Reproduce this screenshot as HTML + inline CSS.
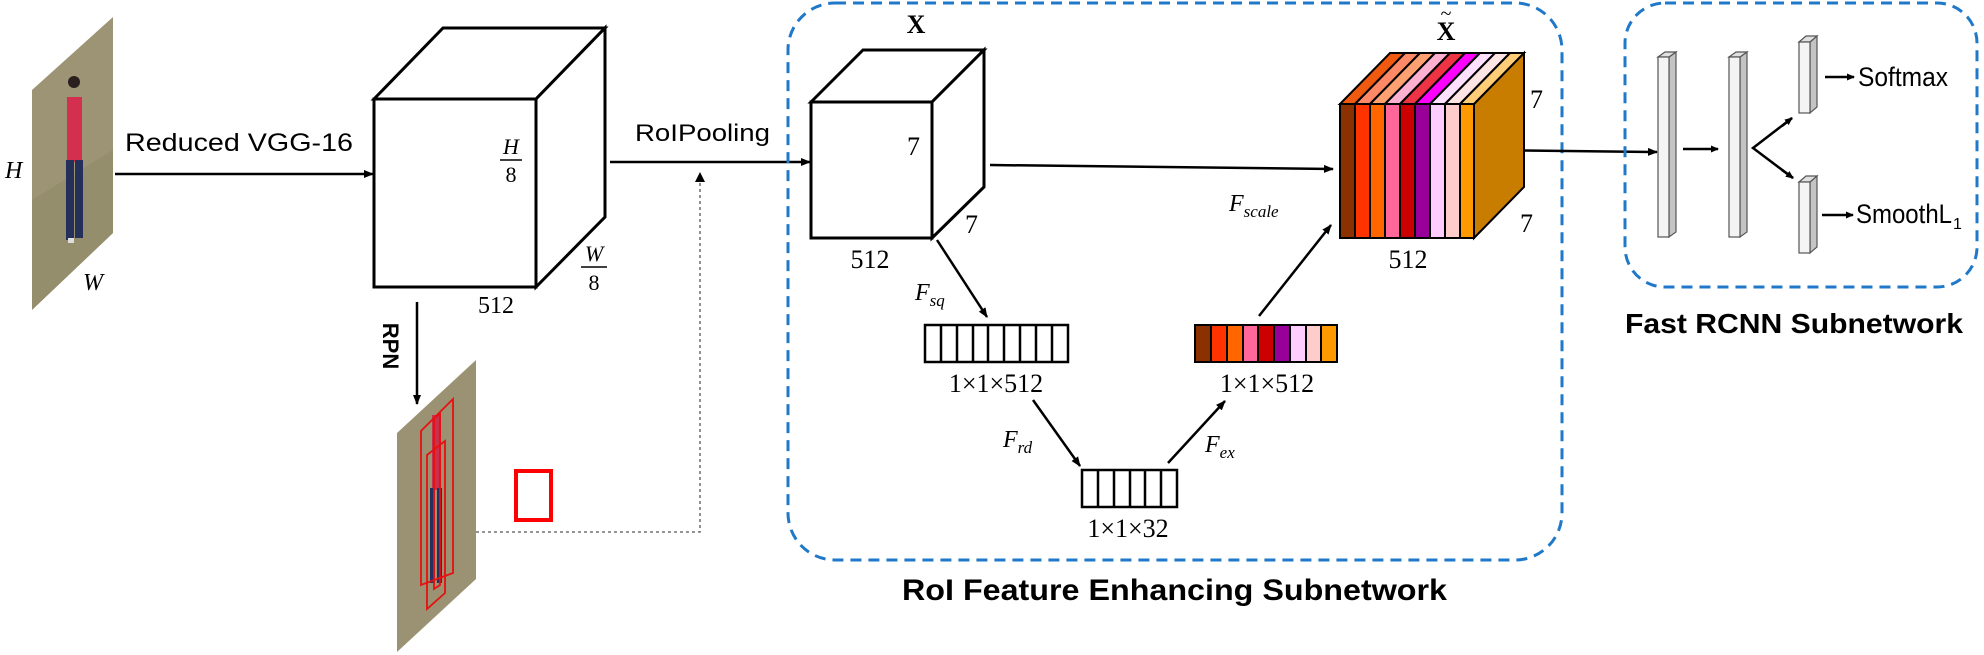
<!DOCTYPE html>
<html><head><meta charset="utf-8"><style>
html,body{margin:0;padding:0;background:#fff;}
svg{display:block;}
.s{font-family:"Liberation Sans",sans-serif;}
.m{font-family:"Liberation Serif",serif;}
</style></head><body>
<svg width="1984" height="655" viewBox="0 0 1984 655" xmlns="http://www.w3.org/2000/svg">
<defs>
<marker id="ah" markerWidth="10" markerHeight="8" refX="9" refY="4" orient="auto" markerUnits="userSpaceOnUse">
<path d="M0,0 L10,4 L0,8 Z" fill="#000"/></marker>
<marker id="ahs" markerWidth="8" markerHeight="7" refX="7" refY="3.5" orient="auto" markerUnits="userSpaceOnUse">
<path d="M0,0 L8,3.5 L0,7 Z" fill="#000"/></marker>
</defs>

<!-- input image -->
<polygon points="32,90 113,17 113,233 32,310" fill="#9c9474"/>
<polygon points="32,200 113,150 113,233 32,310" fill="#8f8a68" opacity="0.6"/>
<circle cx="74" cy="82" r="6" fill="#2a2020"/>
<rect x="67" y="97" width="15" height="65" fill="#d42f4f"/>
<rect x="66" y="160" width="8" height="80" fill="#24305a"/>
<rect x="75" y="160" width="8" height="78" fill="#24305a"/>
<rect x="68" y="238" width="6" height="5" fill="#ddd"/>
<text x="5" y="178" class="m" font-style="italic" font-size="24">H</text>
<text x="83" y="290" class="m" font-style="italic" font-size="24">W</text>

<!-- VGG arrow -->
<text x="125" y="151" class="s" font-size="25" textLength="228" lengthAdjust="spacingAndGlyphs">Reduced VGG-16</text>
<line x1="115" y1="174" x2="373" y2="174" stroke="#000" stroke-width="2.5" marker-end="url(#ah)"/>

<!-- cube 1 -->
<g stroke="#000" stroke-width="3" fill="#fff" stroke-linejoin="miter">
<polygon points="374,99 443,28 605,28 536,99"/>
<polygon points="536,99 605,28 605,217 536,287"/>
<rect x="374" y="99" width="162" height="188"/>
</g>
<text x="511" y="154" class="m" font-style="italic" font-size="22" text-anchor="middle">H</text>
<line x1="500" y1="160" x2="522" y2="160" stroke="#000" stroke-width="1.5"/>
<text x="511" y="182" class="m" font-size="22" text-anchor="middle">8</text>
<text x="594" y="261" class="m" font-style="italic" font-size="22" text-anchor="middle">W</text>
<line x1="581" y1="267" x2="607" y2="267" stroke="#000" stroke-width="1.5"/>
<text x="594" y="290" class="m" font-size="22" text-anchor="middle">8</text>
<text x="496" y="313" class="m" font-size="24" text-anchor="middle">512</text>

<!-- RoIPooling -->
<text x="635" y="141" class="s" font-size="24" textLength="135" lengthAdjust="spacingAndGlyphs">RoIPooling</text>
<line x1="610" y1="162" x2="810" y2="162" stroke="#000" stroke-width="2.5" marker-end="url(#ah)"/>

<!-- RPN -->
<line x1="417" y1="302" x2="417" y2="404" stroke="#000" stroke-width="2.5" marker-end="url(#ah)"/>
<text class="s" font-size="22" font-weight="bold" transform="translate(383,346) rotate(90)" text-anchor="middle">RPN</text>

<!-- image 2 -->
<polygon points="397,433 476,360 476,579 397,652" fill="#9a9272"/>
<rect x="432" y="415" width="9" height="75" fill="#c8304c"/>
<rect x="430" y="488" width="5" height="95" fill="#263060"/>
<rect x="437" y="488" width="5" height="95" fill="#263060"/>
<g fill="none" stroke="#e81010" stroke-width="1.8">
<polygon points="421,431 453,399 453,573 421,585"/>
<polygon points="427,455 445,441 445,593 427,609"/>
<polygon points="434,418 440,414 440,585 434,589"/>
</g>
<rect x="516" y="471" width="35" height="49" fill="none" stroke="#f00" stroke-width="4"/>
<polyline points="476,532 700,532 700,180" fill="none" stroke="#555" stroke-width="1.3" stroke-dasharray="3,3"/>
<path d="M695,182 L700,172 L705,182 Z" fill="#000"/>

<!-- RoI box -->
<rect x="788" y="3" width="774" height="557" rx="47" ry="47" fill="none" stroke="#1f78c8" stroke-width="3" stroke-dasharray="11,7"/>
<text x="902" y="600" class="s" font-size="30" font-weight="bold" textLength="545" lengthAdjust="spacingAndGlyphs">RoI Feature Enhancing Subnetwork</text>

<!-- X cube -->
<g stroke="#000" stroke-width="3" fill="#fff">
<polygon points="811,102 863,50 984,50 932,102"/>
<polygon points="932,102 984,50 984,187 932,238"/>
<rect x="811" y="102" width="121" height="136"/>
</g>
<text x="916" y="33" class="m" font-size="26" font-weight="bold" text-anchor="middle">X</text>
<text x="907" y="155" class="m" font-size="26">7</text>
<text x="965" y="233" class="m" font-size="26">7</text>
<text x="870" y="268" class="m" font-size="26" text-anchor="middle">512</text>

<!-- arrows -->
<g stroke="#000" stroke-width="2.5">
<line x1="990" y1="165" x2="1333" y2="169" marker-end="url(#ah)"/>
<line x1="937" y1="240" x2="987" y2="317" marker-end="url(#ah)"/>
<line x1="1033" y1="400" x2="1080" y2="466" marker-end="url(#ah)"/>
<line x1="1168" y1="463" x2="1225" y2="401" marker-end="url(#ah)"/>
<line x1="1259" y1="316" x2="1331" y2="225" marker-end="url(#ah)"/>
<line x1="1478" y1="150" x2="1657" y2="152" marker-end="url(#ah)"/>
</g>
<text x="915" y="300" class="m" font-style="italic" font-size="24">F<tspan font-size="17" dy="6">sq</tspan></text>
<text x="1229" y="211" class="m" font-style="italic" font-size="24">F<tspan font-size="17" dy="6">scale</tspan></text>
<text x="1003" y="447" class="m" font-style="italic" font-size="24">F<tspan font-size="17" dy="6">rd</tspan></text>
<text x="1205" y="452" class="m" font-style="italic" font-size="24">F<tspan font-size="17" dy="6">ex</tspan></text>

<!-- vector 1 -->
<g stroke="#000" stroke-width="2.5" fill="#fff">
<rect x="925" y="325" width="143" height="37"/>
<path d="M941,325V362M957,325V362M973,325V362M988,325V362M1004,325V362M1020,325V362M1036,325V362M1052,325V362" fill="none"/>
</g>
<text x="996" y="392" class="m" font-size="26" text-anchor="middle">1×1×512</text>

<!-- small vector -->
<g stroke="#000" stroke-width="2.5" fill="#fff">
<rect x="1082" y="470" width="95" height="37"/>
<path d="M1098,470V507M1114,470V507M1130,470V507M1145,470V507M1161,470V507" fill="none"/>
</g>
<text x="1128" y="537" class="m" font-size="26" text-anchor="middle">1×1×32</text>

<!-- colored vector -->
<g stroke="#000" stroke-width="2">
<rect x="1195" y="325" width="16" height="37" fill="#8b3000"/>
<rect x="1211" y="325" width="16" height="37" fill="#ff3300"/>
<rect x="1227" y="325" width="16" height="37" fill="#ff6600"/>
<rect x="1243" y="325" width="15" height="37" fill="#ff6699"/>
<rect x="1258" y="325" width="16" height="37" fill="#cc0000"/>
<rect x="1274" y="325" width="16" height="37" fill="#990099"/>
<rect x="1290" y="325" width="16" height="37" fill="#ffccff"/>
<rect x="1306" y="325" width="15" height="37" fill="#ffcccc"/>
<rect x="1321" y="325" width="16" height="37" fill="#ff9900"/>
</g>
<text x="1267" y="392" class="m" font-size="26" text-anchor="middle">1×1×512</text>

<!-- colored cube -->
<g stroke="#000" stroke-width="2">
<polygon points="1474,104 1524,53 1524,187 1474,238" fill="#c97d00"/>
<polygon points="1340,104 1390,53 1405,53 1355,104" fill="#f05a10"/>
<polygon points="1355,104 1405,53 1420,53 1370,104" fill="#ff8866"/>
<polygon points="1370,104 1420,53 1435,53 1385,104" fill="#ffa070"/>
<polygon points="1385,104 1435,53 1450,53 1400,104" fill="#ffb0d0"/>
<polygon points="1400,104 1450,53 1465,53 1415,104" fill="#ee3344"/>
<polygon points="1415,104 1465,53 1480,53 1430,104" fill="#ff00ff"/>
<polygon points="1430,104 1480,53 1495,53 1445,104" fill="#ffe0ff"/>
<polygon points="1445,104 1495,53 1510,53 1460,104" fill="#ffe4e4"/>
<polygon points="1460,104 1510,53 1524,53 1474,104" fill="#ffcc77"/>
<rect x="1340" y="104" width="15" height="134" fill="#8b3000"/>
<rect x="1355" y="104" width="15" height="134" fill="#ff3300"/>
<rect x="1370" y="104" width="15" height="134" fill="#ff6600"/>
<rect x="1385" y="104" width="15" height="134" fill="#ff6699"/>
<rect x="1400" y="104" width="15" height="134" fill="#cc0000"/>
<rect x="1415" y="104" width="15" height="134" fill="#990099"/>
<rect x="1430" y="104" width="15" height="134" fill="#ffccff"/>
<rect x="1445" y="104" width="15" height="134" fill="#ffcccc"/>
<rect x="1460" y="104" width="14" height="134" fill="#ff9900"/>
</g>
<text x="1446" y="40" class="m" font-size="26" font-weight="bold" text-anchor="middle">X</text>
<text x="1446" y="20" class="m" font-size="20" text-anchor="middle">~</text>
<text x="1530" y="108" class="m" font-size="26">7</text>
<text x="1520" y="232" class="m" font-size="26">7</text>
<text x="1408" y="268" class="m" font-size="26" text-anchor="middle">512</text>

<!-- Fast RCNN box -->
<rect x="1625" y="3" width="352" height="284" rx="40" ry="40" fill="none" stroke="#1f78c8" stroke-width="3" stroke-dasharray="11,7"/>
<text x="1625" y="333" class="s" font-size="28" font-weight="bold" textLength="338" lengthAdjust="spacingAndGlyphs">Fast RCNN Subnetwork</text>

<g stroke="#555" stroke-width="1.2">
<polygon points="1669,57 1676,52 1676,232 1669,237" fill="#c4c4c4"/>
<polygon points="1658,57 1665,52 1676,52 1669,57" fill="#e0e0e0"/>
<rect x="1658" y="57" width="11" height="180" fill="#f4f4f4"/>
<polygon points="1740,57 1747,52 1747,232 1740,237" fill="#c4c4c4"/>
<polygon points="1729,57 1736,52 1747,52 1740,57" fill="#e0e0e0"/>
<rect x="1729" y="57" width="11" height="180" fill="#f4f4f4"/>
<polygon points="1810,42 1817,36 1817,107 1810,113" fill="#c4c4c4"/>
<polygon points="1799,42 1806,36 1817,36 1810,42" fill="#e0e0e0"/>
<rect x="1799" y="42" width="11" height="71" fill="#f4f4f4"/>
<polygon points="1810,182 1817,176 1817,247 1810,253" fill="#c4c4c4"/>
<polygon points="1799,182 1806,176 1817,176 1810,182" fill="#e0e0e0"/>
<rect x="1799" y="182" width="11" height="71" fill="#f4f4f4"/>
</g>
<g stroke="#000" stroke-width="2.5">
<line x1="1683" y1="149" x2="1718" y2="149" marker-end="url(#ahs)"/>
<polyline points="1792,118 1753,148 1793,178" fill="none"/>
<line x1="1782" y1="126" x2="1792" y2="118" marker-end="url(#ahs)"/>
<line x1="1782" y1="170" x2="1793" y2="178" marker-end="url(#ahs)"/>
<line x1="1825" y1="77" x2="1854" y2="77" marker-end="url(#ahs)"/>
<line x1="1822" y1="215" x2="1853" y2="215" marker-end="url(#ahs)"/>
</g>
<text x="1858" y="86" class="s" font-size="27" textLength="90" lengthAdjust="spacingAndGlyphs">Softmax</text>
<text x="1856" y="223" class="s" font-size="27" textLength="96" lengthAdjust="spacingAndGlyphs">SmoothL</text>
<text x="1953" y="229" class="s" font-size="16">1</text>
</svg>
</body></html>
